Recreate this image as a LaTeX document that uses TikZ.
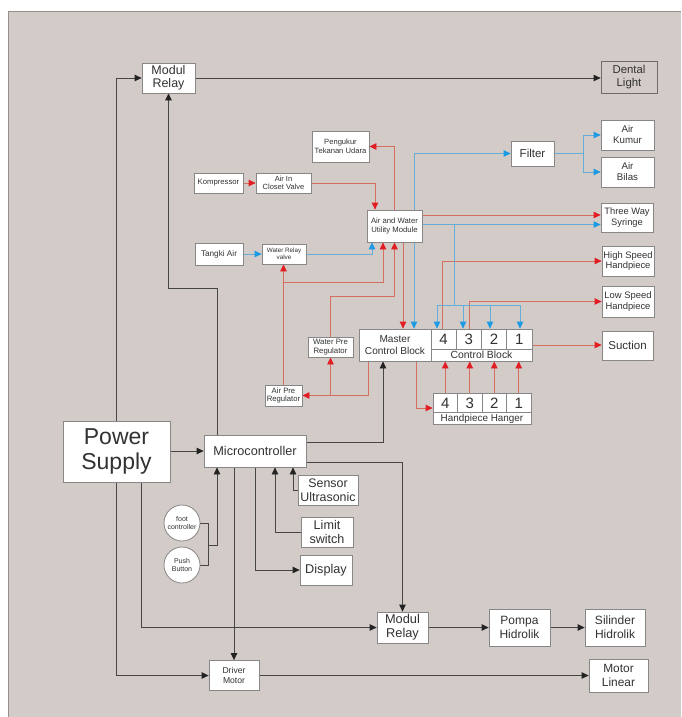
\documentclass[tikz,border=0pt]{standalone}
\usepackage{fontspec}
\setmainfont{Liberation Sans}
\usetikzlibrary{arrows.meta}

\definecolor{panel}{RGB}{211,203,200}
\definecolor{panelline}{RGB}{150,143,140}
\definecolor{boxline}{RGB}{135,135,135}
\definecolor{txt}{RGB}{50,50,50}
\definecolor{blkln}{RGB}{70,70,70}
\definecolor{blktip}{RGB}{35,35,35}
\definecolor{redln}{RGB}{214,110,96}
\definecolor{redtip}{RGB}{226,30,36}
\definecolor{bluln}{RGB}{100,174,216}
\definecolor{blutip}{RGB}{28,155,228}

\pgfdeclarelayer{back}
\pgfsetlayers{back,main}

\tikzset{
  box/.style={draw=boxline, line width=0.8pt, fill=white, text=txt, align=center, inner sep=0.5pt},
  sz/.style 2 args={minimum width=#1, minimum height=#2},
  fnt/.style 2 args={font=\fontsize{#1}{#2}\selectfont},
  cellbox/.style={box, minimum height=20, minimum width=25.25, fnt={15}{15}},
  hangcell/.style={box, minimum height=19, minimum width=24.5, fnt={15}{15}},
  circ/.style={box, circle, minimum size=36, inner sep=0pt, fnt={7}{8}},
  blk/.style={draw=blkln, line width=0.8pt, >={Triangle[length=7pt,width=6.5pt,color=blktip]}},
  redc/.style={draw=redln, line width=0.8pt, >={Triangle[length=7pt,width=6.5pt,color=redtip]}},
  bluc/.style={draw=bluln, line width=0.8pt, >={Triangle[length=7pt,width=6.5pt,color=blutip]}},
}

\begin{document}
\begin{tikzpicture}[x=1pt, y=-1pt]
\useasboundingbox (0,0) rectangle (681,717);
\begin{pgfonlayer}{back}
\fill[white] (0,0) rectangle (681,717);
\fill[panel] (8,11) rectangle (681,717);
\draw[panelline, line width=0.8pt] (8,717) -- (8,11) -- (681,11);
\end{pgfonlayer}

% top row
\node[box, sz={53}{30}, fnt={12.5}{13}] (relayA) at (168.5,78) {Modul\\Relay};
\node[box, fill=panel, draw=boxline!80!black, sz={56}{32}, fnt={11.4}{13}] (dental) at (629,77) {Dental\\Light};

% air and water
\node[box, sz={57}{31}, fnt={7.6}{9}] (pengukur) at (340.5,146.5) {Pengukur\\Tekanan Udara};
\node[box, sz={49}{20}, fnt={7.7}{9}] (kompres) at (218.5,183) {Kompressor};
\node[box, sz={55}{20}, fnt={7.5}{8.5}] (closet) at (283.5,183) {Air In\\Closet Valve};
\node[box, sz={55}{32}, fnt={7.7}{9}] (utility) at (394.5,226) {Air and Water\\Utility Module};
\node[box, sz={48}{22}, fnt={8.2}{9}] (tangki) at (219,254) {Tangki Air};
\node[box, sz={44}{20}, fnt={6.3}{7}] (wrelay) at (284,254) {Water Relay\\valve};
\node[box, sz={45}{20}, fnt={7.8}{8.7}] (wpre) at (330.5,347) {Water Pre\\Regulator};
\node[box, sz={37}{21}, fnt={7.7}{8.7}] (apre) at (283.5,395.5) {Air Pre\\Regulator};

% right column
\node[box, sz={43}{25}, fnt={11.5}{13}] (filter) at (532.5,153.5) {Filter};
\node[box, sz={53}{30}, fnt={9.7}{11}] (kumur) at (627.5,135) {Air\\Kumur};
\node[box, sz={53}{30}, fnt={9.7}{11}] (bilas) at (627.5,172) {Air\\Bilas};
\node[box, sz={52}{29}, fnt={9.3}{10.5}] (syringe) at (627,217.5) {Three Way\\Syringe};
\node[box, sz={52}{30}, fnt={9.4}{10.5}] (highsp) at (628,261) {High Speed\\Handpiece};
\node[box, sz={52}{31}, fnt={9.4}{10.5}] (lowsp) at (628,301.5) {Low Speed\\Handpiece};
\node[box, sz={51}{29}, fnt={11.5}{13}] (suction) at (627.5,345.5) {Suction};

% control blocks
\node[box, sz={72}{32}, fnt={10.1}{11.5}] (master) at (395,345) {Master\\Control Block};
\foreach \n/\x in {4/443.6, 3/468.9, 2/494.1, 1/519.4}
  \node[cellbox] (c\n) at (\x,339) {\n};
\node[box, sz={101}{12}, fnt={10.4}{11}] (cbl) at (481.5,355) {Control Block};
\foreach \n/\x in {4/445.25, 3/469.75, 2/494.25, 1/518.75}
  \node[hangcell] (h\n) at (\x,403) {\n};
\node[box, sz={98}{12}, fnt={9.9}{10}] (hgl) at (482,418.5) {Handpiece Hanger};

% electronics
\node[box, sz={107}{61}, fnt={23}{25}] (power) at (116.5,451.5) {Power\\Supply};
\node[box, sz={102}{32}, fnt={12.7}{14}] (mcu) at (255,451) {Microcontroller};
\node[box, sz={60}{30}, fnt={12.4}{14}] (sensor) at (328,490) {Sensor\\Ultrasonic};
\node[box, sz={52}{30}, fnt={12.6}{14}] (limit) at (327,532) {Limit\\switch};
\node[box, sz={52}{30}, fnt={12.7}{14}] (display) at (326,570) {Display};
\node[circ] (foot) at (182,523) {foot\\controller};
\node[circ] (push) at (182,565) {Push\\Button};

% bottom rows
\node[box, sz={51}{31}, fnt={12.8}{14}] (relayB) at (402.5,627.5) {Modul\\Relay};
\node[box, sz={61}{37}, fnt={12}{14}] (pompa) at (519.5,627.5) {Pompa\\Hidrolik};
\node[box, sz={60}{37}, fnt={12}{14}] (silinder) at (615,627.5) {Silinder\\Hidrolik};
\node[box, sz={50}{30}, fnt={8.6}{10}] (driver) at (234,675.5) {Driver\\Motor};
\node[box, sz={59}{33}, fnt={11.9}{14}] (linear) at (618.5,675.5) {Motor\\Linear};

% bend points
\coordinate (mbend) at (168.5,288);
\coordinate (fjoin) at (208,545);
\coordinate (abend) at (283.5,282);
\coordinate (btap) at (454,224.5);
\coordinate (bsplit) at (454,305);
\coordinate (fsplit) at (583,153.5);

\begin{pgfonlayer}{back}
% power and control lines
\draw[blk,->] (power.north) |- (relayA.west);
\draw[blk,->] (relayA.east) -- (relayA.east -| dental.west);
\draw[blk,->] (power.south) |- (driver.west);
\draw[blk,->] ([xshift=24.5]power.south) |- (relayB.west);
\draw[blk,->] (power.east |- mcu.west) -- (mcu.west);
\draw[blk,->] ([xshift=-38]mcu.north) |- (mbend) -- (relayA.south);
\draw[blk,->] ([yshift=9]mcu.east) -| ([xshift=-12]master.south);
\draw[blk,->] ([yshift=-11]mcu.east) -| (relayB.north);
\draw[blk,->] ([xshift=-21]mcu.south) -- (driver.north);
\draw[blk,->] (mcu.south) |- (display.west);
\draw[blk,->] (limit.west) -| ([xshift=20]mcu.south);
\draw[blk,->] (sensor.west) -| ([xshift=38]mcu.south);
\draw[blk] (foot.east) -| (fjoin);
\draw[blk] (push.east) -| (fjoin);
\draw[blk,->] (fjoin) -| ([xshift=-38]mcu.south);
\draw[blk,->] (relayB.east) -- (pompa.west);
\draw[blk,->] (pompa.east) -- (silinder.west);
\draw[blk,->] (driver.east) -- (linear.west);

% air lines
\draw[redc,->] (kompres.east) -- (closet.west);
\draw[redc,->] (closet.east) -| ([xshift=-19.5]utility.north);
\draw[redc,->] (utility.north) |- (pengukur.east);
\draw[redc,->] ([yshift=11]utility.east) -- ([yshift=11]utility.east -| syringe.west);
\draw[redc,->] ([xshift=8.5]utility.south) -- ([xshift=8.5]utility.south |- master.north);
\draw[redc,->] (apre.north) -- (apre.north |- wrelay.south);
\draw[redc,->] (abend) -| ([xshift=-11.5]utility.south);
\draw[redc,->] (wpre.north) -- ++(0,-40) -| (utility.south);
\draw[redc,->] ([xshift=-27]master.south) |- (apre.east);
\draw[redc,->] (wpre.south |- apre.east) -- (wpre.south);
\draw[redc,->] ([xshift=21]master.south) |- ([yshift=-5]h4.west);
\foreach \n in {4,3,2,1}
  \draw[redc,->] (h\n.north) -- (h\n.north |- cbl.south);
\draw[redc,->] ([xshift=-1]c4.north) |- (highsp.west);
\draw[redc,->] (c3.north) |- (lowsp.west);
\draw[redc,->] ([yshift=-6]c1.east) -- ([yshift=-6]c1.east -| suction.west);

% water lines
\draw[bluc,->] (tangki.east) -- (wrelay.west);
\draw[bluc,->] (wrelay.east) -| ([xshift=-22.5]utility.south);
\draw[bluc,->] ([yshift=1.5]utility.east) -- ([yshift=1.5]utility.east -| syringe.west);
\draw[bluc] (btap) -- (bsplit);
\foreach \c/\dx in {c4/-6.6, c3/-5.9, c2/-4.1, c1/0.6}
  \draw[bluc,->] (bsplit) -| ([xshift=\dx]\c.north);
\draw[bluc,<->] ([xshift=19]master.north) |- (filter.west);
\draw[bluc] (filter.east) -- (fsplit);
\draw[bluc,->] (fsplit) |- (kumur.west);
\draw[bluc,->] (fsplit) |- (bilas.west);
\end{pgfonlayer}
\end{tikzpicture}
\end{document}
